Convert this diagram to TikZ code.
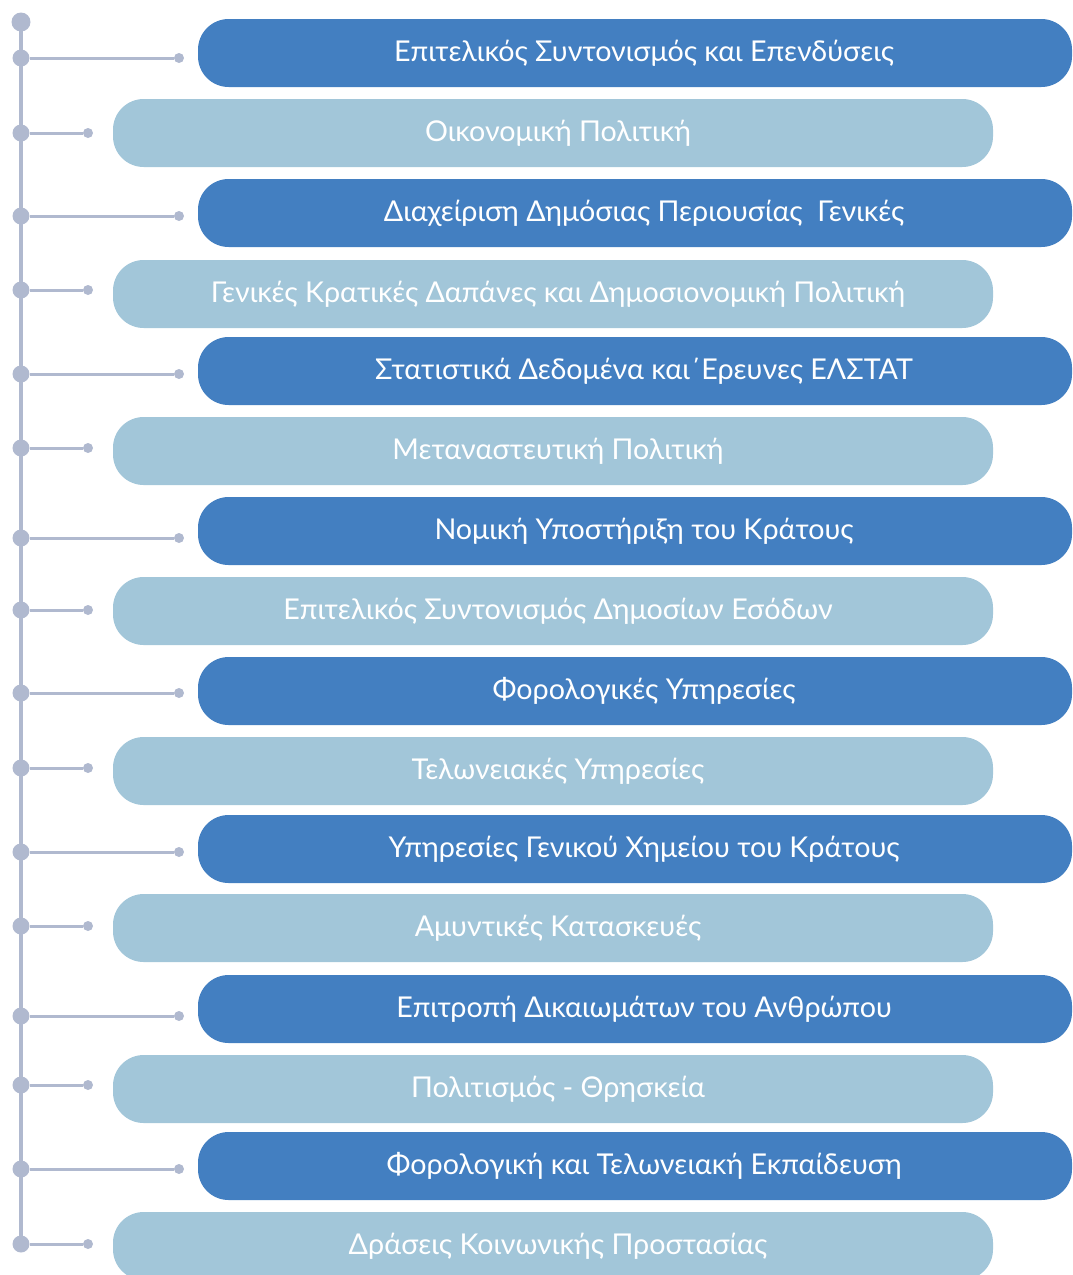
\documentclass[tikz,border=0pt]{standalone}
\usepackage{fontspec}
\setmainfont{Lato}
\definecolor{darkbar}{HTML}{437FC1}
\definecolor{lightbar}{HTML}{A2C6D9}
\definecolor{trunk}{HTML}{B0B9CF}
\tikzset{
  darkrow/.style={fill=darkbar, draw=none, rounded corners=23pt},
  lightrow/.style={fill=lightbar, draw=none, rounded corners=23pt},
  lbl/.style={text=white, font=\fontsize{21.5}{25}\selectfont, inner sep=0pt, anchor=base},
  bigdot/.style={circle, fill=trunk, minimum size=17*0.75pt, inner sep=0pt},
  smalldot/.style={circle, fill=trunk, minimum size=10*0.75pt, inner sep=0pt},
  link/.style={draw=trunk, line width=3*0.75pt},
  trunkline/.style={draw=trunk, line width=4*0.75pt}
}
\begin{document}
\begin{tikzpicture}[x=0.75pt,y=-0.75pt]
\useasboundingbox (0,0) rectangle (1072,1275);
\clip (0,0) rectangle (1072,1275);
% trunk
\node[circle, fill=trunk, minimum size=19*0.75pt, inner sep=0pt] (top) at (21,22) {};
\coordinate (bottom) at (21,1244);
\draw[trunkline] (top.center) -- (bottom);
% rows: dark
\foreach \i/\yb/\yl/\t in {
 1/53/58/{Επιτελικός Συντονισμός και Επενδύσεις},
 3/213/216/{Διαχείριση Δημόσιας Περιουσίας\ \ Γενικές},
 5/371/374/{Στατιστικά Δεδομένα και΄Ερευνες ΕΛΣΤΑΤ},
 7/531/538/{Νομική Υποστήριξη του Κράτους},
 9/691/693/{Φορολογικές Υπηρεσίες},
 11/849/852/{Υπηρεσίες Γενικού Χημείου του Κράτους},
 13/1009/1016/{Επιτροπή Δικαιωμάτων του Ανθρώπου},
 15/1166/1169/{Φορολογική και Τελωνειακή Εκπαίδευση}}{
  \path[darkrow] (198,\yb-34) rectangle (1072,\yb+34);
  \node[lbl] (t\i) at (644,\yb+8) {\t};
  \node[bigdot] (a\i) at (21,\yl) {};
  \node[smalldot] (b\i) at (179,\yl) {};
  \draw[link] (a\i) -- (b\i);
}
% rows: light
\foreach \i/\yb/\yl/\t in {
 2/133/133/{Οικονομική Πολιτική},
 4/294/290/{Γενικές Κρατικές Δαπάνες και Δημοσιονομική Πολιτική},
 6/451/448/{Μεταναστευτική Πολιτική},
 8/611/610/{Επιτελικός Συντονισμός Δημοσίων Εσόδων},
 10/771/768/{Τελωνειακές Υπηρεσίες},
 12/928/926/{Αμυντικές Κατασκευές},
 14/1089/1085/{Πολιτισμός - Θρησκεία},
 16/1246/1244/{Δράσεις Κοινωνικής Προστασίας}}{
  \path[lightrow] (113,\yb-34) rectangle (993,\yb+34);
  \node[lbl] (t\i) at (558,\yb+8) {\t};
  \node[bigdot] (a\i) at (21,\yl) {};
  \node[smalldot] (b\i) at (88,\yl) {};
  \draw[link] (a\i) -- (b\i);
}
\end{tikzpicture}
\end{document}
